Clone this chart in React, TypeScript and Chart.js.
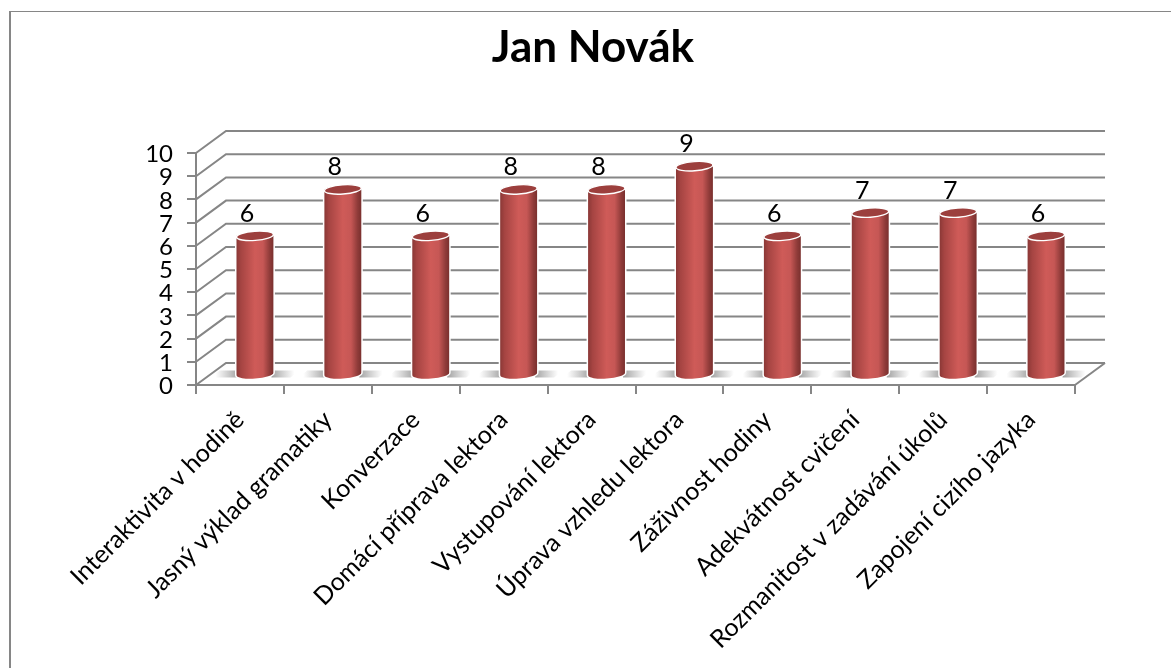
import React, { useEffect, useRef } from "react";
import { Chart, registerables } from "chart.js";

Chart.register(...registerables);

const title = "Jan Novák";
const categories = [
  "Interaktivita v hodině",
  "Jasný výklad gramatiky",
  "Konverzace",
  "Domácí příprava lektora",
  "Vystupování lektora",
  "Úprava vzhledu lektora",
  "Záživnost hodiny",
  "Adekvátnost cvičení",
  "Rozmanitost v zadávání úkolů",
  "Zapojení cizího jazyka",
];
const scores = [6, 8, 6, 8, 8, 9, 6, 7, 7, 6];
const axisMin = 0;
const axisMax = 10;
const axisStep = 1;

const GRAY = "#868686";
const FONT = "Lato, 'Open Sans', sans-serif";
const DEPTH_X = 30;
const DEPTH_Y = -22;

const scene3d = {
  id: "scene3d",
  beforeDatasetsDraw(chart: any) {
    const { ctx, scales } = chart;
    const y = scales.y;
    const area = chart.chartArea;
    ctx.save();
    ctx.strokeStyle = GRAY;
    ctx.lineWidth = 2;
    ctx.lineCap = "butt";
    for (let v = axisMin; v <= axisMax; v += axisStep) {
      const py = y.getPixelForValue(v);
      ctx.beginPath();
      ctx.moveTo(area.left, py);
      ctx.lineTo(area.left + DEPTH_X, py + DEPTH_Y);
      ctx.lineTo(area.right + DEPTH_X, py + DEPTH_Y);
      ctx.stroke();
    }
    const by = y.getPixelForValue(axisMin);
    ctx.beginPath();
    ctx.moveTo(area.right, by);
    ctx.lineTo(area.right + DEPTH_X, by + DEPTH_Y);
    ctx.stroke();

    // floor shadows beside each cylinder
    const meta = chart.getDatasetMeta(0);
    meta.data.forEach((bar: any) => {
      const cx = bar.x + DEPTH_X / 2;
      const r = bar.width / 2;
      const y0 = by + DEPTH_Y / 2 - 3.5;
      const h = 7;
      const spread = 21;
      const left = ctx.createLinearGradient(cx - r - spread, 0, cx - r + 2, 0);
      left.addColorStop(0, "rgba(160,160,160,0)");
      left.addColorStop(1, "rgba(150,150,150,0.9)");
      ctx.fillStyle = left;
      ctx.beginPath();
      ctx.moveTo(cx - r - spread - 5, y0 + h);
      ctx.lineTo(cx - r + 2, y0 + h);
      ctx.lineTo(cx - r + 2, y0);
      ctx.lineTo(cx - r - spread + 4, y0);
      ctx.closePath();
      ctx.fill();
      const right = ctx.createLinearGradient(cx + r - 2, 0, cx + r + spread, 0);
      right.addColorStop(0, "rgba(150,150,150,0.9)");
      right.addColorStop(1, "rgba(160,160,160,0)");
      ctx.fillStyle = right;
      ctx.beginPath();
      ctx.moveTo(cx + r - 2, y0 + h);
      ctx.lineTo(cx + r + spread - 4, y0 + h);
      ctx.lineTo(cx + r + spread + 5, y0);
      ctx.lineTo(cx + r - 2, y0);
      ctx.closePath();
      ctx.fill();
    });
    ctx.restore();
  },
  afterDatasetsDraw(chart: any) {
    const { ctx, scales } = chart;
    const y = scales.y;
    const meta = chart.getDatasetMeta(0);
    const by = y.getPixelForValue(axisMin);
    meta.data.forEach((bar: any, i: number) => {
      const cx = bar.x + DEPTH_X / 2;
      const r = bar.width / 2;
      const tilt = (-4 * Math.PI) / 180;
      const ry = 4.6;
      const topY = bar.y - 10;
      const baseY = by - 11;

      ctx.save();
      const outline = () => {
        ctx.beginPath();
        ctx.moveTo(cx - r, topY);
        ctx.lineTo(cx - r, baseY);
        ctx.ellipse(cx, baseY, r, ry, tilt, Math.PI, 0, true);
        ctx.lineTo(cx + r, topY);
        ctx.closePath();
      };
      ctx.strokeStyle = "#ffffff";
      ctx.lineWidth = 3;
      outline();
      ctx.stroke();
      const g = ctx.createLinearGradient(cx - r, 0, cx + r, 0);
      g.addColorStop(0, "#8a3836");
      g.addColorStop(0.12, "#a54442");
      g.addColorStop(0.5, "#cf5b58");
      g.addColorStop(0.72, "#c65755");
      g.addColorStop(0.9, "#8f3b39");
      g.addColorStop(1, "#7a302e");
      ctx.fillStyle = g;
      outline();
      ctx.fill();

      ctx.beginPath();
      ctx.ellipse(cx, topY, r, ry, tilt, 0, Math.PI * 2);
      ctx.fillStyle = "#9c3f3d";
      ctx.fill();
      ctx.strokeStyle = "#ffffff";
      ctx.lineWidth = 1.4;
      ctx.stroke();

      ctx.fillStyle = "#000000";
      ctx.font = `25px ${FONT}`;
      ctx.textAlign = "center";
      ctx.textBaseline = "middle";
      ctx.fillText(String(scores[i]), bar.x + 7, bar.y - 32);
      ctx.restore();
    });
  },
};

export default function App() {
  const ref = useRef<HTMLCanvasElement>(null);
  useEffect(() => {
    const chart = new Chart(ref.current!, {
      type: "bar",
      data: {
        labels: categories,
        datasets: [
          {
            label: title,
            data: scores,
            backgroundColor: "rgba(0,0,0,0)",
            borderWidth: 0,
            barPercentage: 1,
            categoryPercentage: 0.42,
          },
        ],
      },
      plugins: [scene3d],
      options: {
        animation: false,
        responsive: false,
        layout: { padding: { left: 100, right: 100, top: 0, bottom: 0 } },
        plugins: {
          legend: { display: false },
          tooltip: { enabled: false },
          title: {
            display: true,
            text: title,
            color: "#000000",
            font: { family: FONT, size: 44, weight: "bold" },
            padding: { top: 9, bottom: 79.2 },
          },
        },
        scales: {
          x: {
            afterFit: (s: any) => { s.height = 656 - 373; },
            grid: {
              drawOnChartArea: false,
              drawTicks: true,
              color: GRAY,
              lineWidth: 2,
              tickLength: 9,
            },
            border: { color: GRAY, width: 2 },
            ticks: {
              autoSkip: false,
              minRotation: 45,
              maxRotation: 45,
              padding: 11,
              color: "#000000",
              font: { family: FONT, size: 25 },
            },
          },
          y: {
            min: axisMin,
            max: axisMax,
            afterFit: (s: any) => { s.width = 85; },
            grid: {
              drawOnChartArea: false,
              drawTicks: true,
              color: GRAY,
              lineWidth: 2,
              tickLength: 9,
            },
            border: { color: GRAY, width: 2 },
            ticks: {
              autoSkip: false,
              stepSize: axisStep,
              padding: 14,
              labelOffset: 1.5,
              color: "#000000",
              font: { family: FONT, size: 24 },
            },
          },
        },
      },
    } as any);
    return () => chart.destroy();
  }, []);
  return (
    <div
      style={{
        position: "absolute",
        left: 9,
        top: 11,
        width: 1162,
        height: 657,
        overflow: "hidden",
        boxSizing: "border-box",
        background: "#fff",
        borderLeft: `2px solid ${GRAY}`,
        borderTop: `1px solid ${GRAY}`,
      }}
    >
      <canvas ref={ref} width={1164} height={656} style={{ display: "block" }} />
    </div>
  );
}
